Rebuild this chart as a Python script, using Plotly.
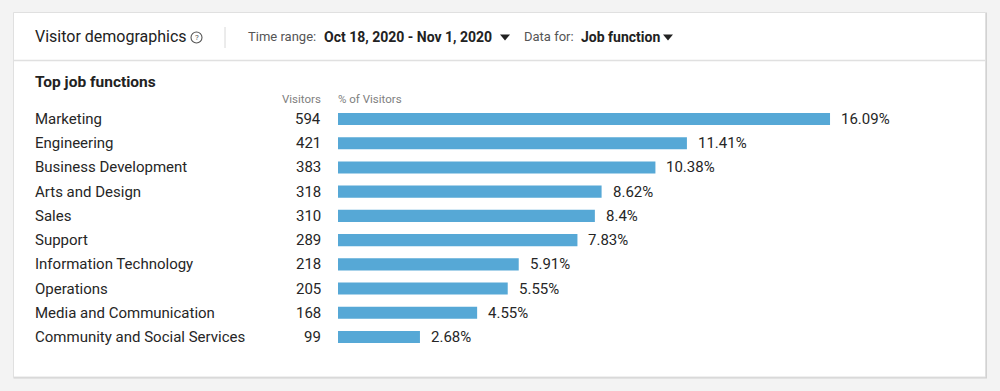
import plotly.graph_objects as go

categories = ["Marketing", "Engineering", "Business Development", "Arts and Design", "Sales",
              "Support", "Information Technology", "Operations", "Media and Communication",
              "Community and Social Services"]
visitors = [594, 421, 383, 318, 310, 289, 218, 205, 168, 99]
pct = [16.09, 11.41, 10.38, 8.62, 8.4, 7.83, 5.91, 5.55, 4.55, 2.68]
pct_labels = ["16.09%", "11.41%", "10.38%", "8.62%", "8.4%", "7.83%", "5.91%", "5.55%", "4.55%", "2.68%"]

W, H = 1000, 391
FONT = "Roboto, Liberation Sans, sans-serif"
BAR = "#56a8d6"
TXT = "#262626"


def px(x):
    return x / W


def py(y):
    return 1 - y / H


fig = go.Figure()
fig.add_trace(go.Bar(
    y=categories, x=pct, orientation="h",
    marker=dict(color=BAR, line=dict(width=0)),
    width=0.5, hoverinfo="skip",
))

row_top, row_bot = 106.9, 349.1
fig.update_layout(
    width=W, height=H,
    margin=dict(l=0, r=0, t=0, b=0),
    paper_bgcolor="#f3f3f3", plot_bgcolor="rgba(0,0,0,0)",
    showlegend=False,
    font=dict(family=FONT, color=TXT),
    xaxis=dict(domain=[px(338), px(938)], range=[0, 600 / 30.58], visible=False, fixedrange=True),
    yaxis=dict(domain=[py(row_bot), py(row_top)], categoryorder="array", categoryarray=categories,
               autorange="reversed", visible=False, fixedrange=True),
)

shapes = []
# card shadow + card
shapes.append(dict(type="rect", xref="paper", yref="paper", x0=px(13.5), x1=px(987), y0=py(378.5), y1=py(12.5),
                   fillcolor="#d2d2d2", line=dict(width=0), layer="below"))
shapes.append(dict(type="rect", xref="paper", yref="paper", x0=px(13.5), x1=px(985.5), y0=py(377), y1=py(12.5),
                   fillcolor="white", line=dict(color="#e0e0e0", width=1), layer="below"))
# header divider
shapes.append(dict(type="line", xref="paper", yref="paper", x0=px(14), x1=px(985), y0=py(60.5), y1=py(60.5),
                   line=dict(color="#e0e0e0", width=1.5)))
# vertical separator
shapes.append(dict(type="line", xref="paper", yref="paper", x0=px(225), x1=px(225), y0=py(27), y1=py(48),
                   line=dict(color="#d8d8d8", width=1)))
# help icon circle
shapes.append(dict(type="circle", xref="paper", yref="paper", x0=px(191), x1=px(202), y0=py(43), y1=py(32),
                   line=dict(color="#555", width=1.1)))


def tri(cx, cy):
    return dict(type="path", xref="paper", yref="paper",
                path=f"M {px(cx-5)} {py(cy-2.5)} L {px(cx+5)} {py(cy-2.5)} L {px(cx)} {py(cy+3.5)} Z",
                fillcolor="#222", line=dict(width=0))


shapes.append(tri(505, 37))
shapes.append(tri(668, 37))
fig.update_layout(shapes=shapes)

ann = []


def text(x, y, s, size=14, color=TXT, anchor="left", bold=False):
    ann.append(dict(xref="paper", yref="paper", x=px(x), y=py(y), text=f"<b>{s}</b>" if bold else s,
                    showarrow=False, xanchor=anchor, yanchor="middle",
                    font=dict(size=size, color=color, family=FONT)))


text(33, 37, "Visitor demographics", size=16, color="#222")
text(196.5, 37.5, "?", size=8, color="#555", anchor="center")
text(246, 37, "Time range:", size=13, color="#555")
text(322, 37, "Oct 18, 2020 - Nov 1, 2020", size=14, color="#222", bold=True)
text(522, 37, "Data for:", size=13, color="#555")
text(579, 37, "Job function", size=14, color="#222", bold=True)
text(33, 82, "Top job functions", size=15.5, color="#222", bold=True)
text(323, 99, "Visitors", size=11.5, color="#808080", anchor="right")
text(336, 99, "% of Visitors", size=11.5, color="#808080")

for c, v, p, pl in zip(categories, visitors, pct, pct_labels):
    ann.append(dict(xref="paper", yref="y", x=px(33), y=c, text=c, showarrow=False, xanchor="left",
                    yanchor="middle", font=dict(size=15, color=TXT, family=FONT)))
    ann.append(dict(xref="paper", yref="y", x=px(323), y=c, text=str(v), showarrow=False, xanchor="right",
                    yanchor="middle", font=dict(size=15, color=TXT, family=FONT)))
    ann.append(dict(xref="x", yref="y", x=p, y=c, text=pl, showarrow=False, xanchor="left", xshift=9,
                    yanchor="middle", font=dict(size=15, color=TXT, family=FONT)))

fig.update_layout(annotations=ann)
fig.write_html("out.html", config={"displayModeBar": False},
               post_script="document.body.style.margin='0';document.body.style.background='#f3f3f3';")
